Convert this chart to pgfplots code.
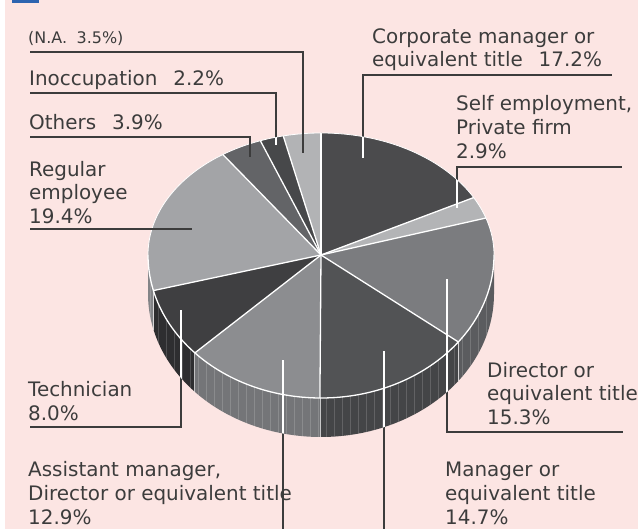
\documentclass[border=0pt]{standalone}
\usepackage{pgfplots}
\pgfplotsset{compat=1.18}
\usepackage{pgfplotstable}
\usepackage{fontspec}
\setmainfont{DejaVu Sans}

\definecolor{bg}{HTML}{FCE5E3}
\definecolor{txt}{HTML}{3C3C3C}
\definecolor{ttl}{HTML}{2D64B0}

% share (%), colour of the top face, colour of the side wall
\pgfplotstableread{
pct top side
17.2 4B4B4D 3A3A3C
2.9  B3B4B6 9A9B9D
15.3 7B7C7F 5B5C5F
14.7 525355 444547
12.9 8C8D90 747578
8.0  3F3F41 2E2E30
19.4 A3A4A7 838487
3.9  636467 505153
2.2  47484A 38393B
3.5  B2B3B5 9A9B9D
}\piedata

\newcommand\addseg[2]{%
  \pgfmathsetmacro\segmid{(#1+#2)/2}%
  \pgfmathsetmacro\segry{sin(\segmid)>0 ? 122 : 143}%
  \xdef\arcpath{\arcpath arc[start angle=#1,end angle=#2,x radius=173bp,y radius=\segry bp]}%
}
\newcommand\buildarc[2]{%
  \gdef\arcpath{}%
  \pgfmathsetmacro\crossA{and(#1>0,#2<0)}%
  \pgfmathsetmacro\crossB{and(#1>-180,#2<-180)}%
  \ifdim\crossA pt>0.5pt
    \addseg{#1}{0}\addseg{0}{#2}%
  \else
    \ifdim\crossB pt>0.5pt
      \addseg{#1}{-180}\addseg{-180}{#2}%
    \else
      \addseg{#1}{#2}%
    \fi
  \fi
}
\newcommand\ptat[1]{%
  \pgfmathsetmacro\px{321+173*cos(#1)}%
  \pgfmathsetmacro\py{274+(sin(#1)>0 ? 122 : 143)*sin(#1)}%
}
\newcommand\pieoutline{(axis cs:494,274) arc[start angle=0,end angle=180,x radius=173bp,y radius=122bp] -- ++(0bp,-39bp) arc[start angle=180,end angle=360,x radius=173bp,y radius=143bp] -- ++(0bp,39bp) -- cycle}

\tikzset{lab/.style={anchor=base west,inner sep=0pt,text=txt,font=\fontsize{20}{24}\selectfont}}

\begin{document}
\begin{tikzpicture}
\begin{axis}[
  scale only axis, width=638bp, height=529bp,
  xmin=0, xmax=638, ymin=0, ymax=529,
  enlargelimits=false, hide axis, clip=false]

\pgfplotsextra{
  % background
  \fill[white] (axis cs:0,0) rectangle (axis cs:5,529);
  \fill[bg] (axis cs:5,0) rectangle (axis cs:638,529);
  % title (almost entirely above the visible area)
  \fill[ttl] (axis cs:12,526) rectangle (axis cs:39,560);
  \node[anchor=base west,inner sep=0pt,text=ttl,font=\fontsize{26}{30}\selectfont] at (axis cs:54,533) {②};
  \node[anchor=base west,inner sep=0pt,text=ttl,font=\fontsize{26}{30}\selectfont\bfseries] at (axis cs:86,535) {Position by the company};

  % side walls
  \gdef\cum{90}%
  \pgfplotsforeachungrouped \i in {0,...,9}{%
    \pgfplotstablegetelem{\i}{pct}\of\piedata
    \pgfmathsetmacro\A{\cum}%
    \pgfmathsetmacro\B{\cum-3.6*\pgfplotsretval}%
    \pgfmathsetmacro\Ac{min(\A,0)}%
    \pgfmathsetmacro\Bc{max(\B,-180)}%
    \pgfmathsetmacro\vis{\Ac>\Bc ? 1 : 0}%
    \ifdim\vis pt>0.5pt
      \pgfplotstablegetelem{\i}{side}\of\piedata
      \definecolor{slc}{HTML}{\pgfplotsretval}%
      \pgfmathsetmacro\px{321+173*cos(\Ac)}%
      \pgfmathsetmacro\py{274+143*sin(\Ac)}%
      \edef\cmd{\noexpand\fill[slc] (axis cs:\px,\py) arc[start angle=\Ac,end angle=\Bc,x radius=173bp,y radius=143bp] -- ++(0bp,-39bp) arc[start angle=\Bc,end angle=\Ac,x radius=173bp,y radius=143bp] -- cycle;}%
      \cmd
    \fi
    \xdef\cum{\B}%
  }
  % faint stripes on the wall
  \begin{scope}
    \clip (axis cs:494,274) arc[start angle=0,end angle=-180,x radius=173bp,y radius=143bp] -- ++(0bp,-39bp) arc[start angle=-180,end angle=0,x radius=173bp,y radius=143bp] -- cycle;
    \foreach \x in {150,158,...,494} {\draw[white,opacity=0.16,line width=0.7bp] (axis cs:\x,0) -- (axis cs:\x,274);}
  \end{scope}

  % top faces
  \gdef\cum{90}%
  \pgfplotsforeachungrouped \i in {0,...,9}{%
    \pgfplotstablegetelem{\i}{pct}\of\piedata
    \pgfmathsetmacro\A{\cum}%
    \pgfmathsetmacro\B{\cum-3.6*\pgfplotsretval}%
    \pgfplotstablegetelem{\i}{top}\of\piedata
    \definecolor{slc}{HTML}{\pgfplotsretval}%
    \buildarc{\A}{\B}%
    \ptat{\A}%
    \edef\cmd{\noexpand\fill[slc] (axis cs:321,274) -- (axis cs:\px,\py) \arcpath -- cycle;}%
    \cmd
    \xdef\cum{\B}%
  }
  % white edges
  \draw[white,line width=0.8bp] (axis cs:494,274) arc[start angle=0,end angle=180,x radius=173bp,y radius=122bp];
  \draw[white,line width=1.3bp] (axis cs:494,274) arc[start angle=0,end angle=-180,x radius=173bp,y radius=143bp];
  \gdef\cum{90}%
  \pgfplotsforeachungrouped \i in {0,...,9}{%
    \pgfplotstablegetelem{\i}{pct}\of\piedata
    \pgfmathsetmacro\B{\cum-3.6*\pgfplotsretval}%
    \ptat{\cum}%
    \edef\cmd{\noexpand\draw[white,line width=1.3bp] (axis cs:321,274) -- (axis cs:\px,\py);}%
    \cmd
    \pgfmathsetmacro\vis{and(\cum<0,\cum>-180) ? 1 : 0}%
    \ifdim\vis pt>0.5pt
      \edef\cmd{\noexpand\draw[white,opacity=0.7,line width=0.8bp] (axis cs:\px,\py) -- ++(0bp,-39bp);}%
      \cmd
    \fi
    \xdef\cum{\B}%
  }

  % leader lines
  \begin{scope}[txt,line width=1.3bp]
    \draw (axis cs:30,477) -- (axis cs:303,477) -- (axis cs:303,376);
    \draw (axis cs:30,436) -- (axis cs:276,436) -- (axis cs:276,384);
    \draw (axis cs:30,392) -- (axis cs:250,392) -- (axis cs:250,372);
    \draw (axis cs:30,300) -- (axis cs:192,300);
    \draw (axis cs:30,102) -- (axis cs:181,102) -- (axis cs:181,219);
    \draw (axis cs:283,169) -- (axis cs:283,0);
    \draw (axis cs:384,178) -- (axis cs:384,0);
    \draw (axis cs:447,250) -- (axis cs:447,97) -- (axis cs:623,97);
    \draw (axis cs:363,371) -- (axis cs:363,454) -- (axis cs:612,454);
    \draw (axis cs:457,321) -- (axis cs:457,362) -- (axis cs:622,362);
  \end{scope}
  \begin{scope}
    \clip \pieoutline;
    \begin{scope}[white,line width=1.3bp]
      \draw (axis cs:276,436) -- (axis cs:276,384);
      \draw (axis cs:181,102) -- (axis cs:181,219);
      \draw (axis cs:283,169) -- (axis cs:283,0);
      \draw (axis cs:384,178) -- (axis cs:384,0);
      \draw (axis cs:447,250) -- (axis cs:447,97);
      \draw (axis cs:363,371) -- (axis cs:363,454);
      \draw (axis cs:457,321) -- (axis cs:457,362);
    \end{scope}
  \end{scope}

  % labels
  \node[lab,font=\fontsize{16}{19}\selectfont] at (axis cs:28,485) {(N.A.\hspace{0.6em}3.5\%)};
  \node[lab] at (axis cs:29,443) {Inoccupation\hspace{0.8em}2.2\%};
  \node[lab] at (axis cs:29,399) {Others\hspace{0.8em}3.9\%};
  \node[lab] at (axis cs:29,352.5) {Regular};
  \node[lab] at (axis cs:29,329) {employee};
  \node[lab] at (axis cs:29,305.5) {19.4\%};
  \node[lab] at (axis cs:372,485.5) {Corporate manager or};
  \node[lab] at (axis cs:372,462.5) {equivalent title\hspace{0.8em}17.2\%};
  \node[lab] at (axis cs:456,418.3) {Self employment,};
  \node[lab] at (axis cs:456,394.5) {Private firm};
  \node[lab] at (axis cs:456,370.7) {2.9\%};
  \node[lab] at (axis cs:487,151.5) {Director or};
  \node[lab] at (axis cs:487,128) {equivalent title};
  \node[lab] at (axis cs:487,104) {15.3\%};
  \node[lab] at (axis cs:28,132) {Technician};
  \node[lab] at (axis cs:28,108) {8.0\%};
  \node[lab] at (axis cs:28,52) {Assistant manager,};
  \node[lab] at (axis cs:28,28.5) {Director or equivalent title};
  \node[lab] at (axis cs:28,5) {12.9\%};
  \node[lab] at (axis cs:445,52) {Manager or};
  \node[lab] at (axis cs:445,28.5) {equivalent title};
  \node[lab] at (axis cs:445,5) {14.7\%};
}
\end{axis}
\pgfresetboundingbox
\useasboundingbox (0,0) rectangle (638bp,529bp);
\end{tikzpicture}
\end{document}
